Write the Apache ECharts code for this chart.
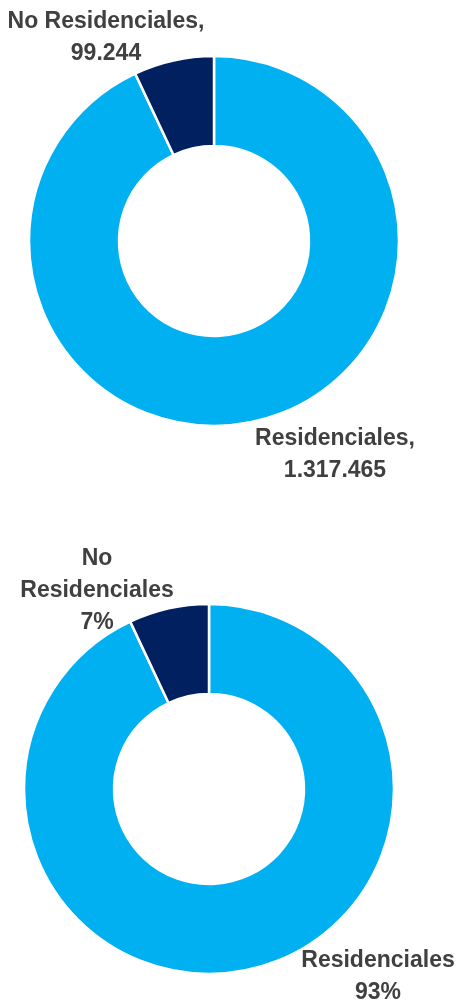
<!DOCTYPE html>
<html>
<head>
<meta charset="utf-8">
<script src="https://cdn.jsdelivr.net/npm/echarts@6/dist/echarts.min.js"></script>
<style>
  html, body { margin: 0; padding: 0; background: #fff; }
  #chart { width: 458px; height: 1000px; }
</style>
</head>
<body>
<div id="chart"></div>
<script>
// datos
const categories = ['Residenciales', 'No Residenciales'];
const counts = [1317465, 99244];
const shares = [93, 7];
const colors = ['#00B0F0', '#002060'];

// posiciones de las etiquetas (centro del bloque de texto)
const countLabelPos = [[335, 455], [106, 38]];
const shareLabelPos = [[378, 977], [97, 591]];

const fmtMiles = n => String(n).replace(/\B(?=(\d{3})+(?!\d))/g, '.');

const labelStyle = {
  show: true,
  position: 'outside',
  fontFamily: 'Liberation Sans, Arial, sans-serif',
  fontWeight: 'bold',
  fontSize: 23,
  lineHeight: 32,
  color: '#404040',
  align: 'center'
};

const chart = echarts.init(document.getElementById('chart'));

const option = {
  animation: false,
  series: [
    {
      type: 'pie',
      center: [214, 241],
      radius: [95, 185],
      startAngle: 90,
      clockwise: true,
      avoidLabelOverlap: false,
      silent: true,
      itemStyle: { borderColor: '#fff', borderWidth: 2.5 },
      label: {
        ...labelStyle,
        formatter: p => p.name + ',\n' + fmtMiles(p.value)
      },
      labelLine: { show: false },
      labelLayout: p => ({
        x: countLabelPos[p.dataIndex][0],
        y: countLabelPos[p.dataIndex][1],
        align: 'center',
        verticalAlign: 'middle'
      }),
      data: categories.map((c, i) => ({
        name: c,
        value: counts[i],
        itemStyle: { color: colors[i] }
      }))
    },
    {
      type: 'pie',
      center: [209, 789],
      radius: [95, 185],
      startAngle: 90,
      clockwise: true,
      avoidLabelOverlap: false,
      silent: true,
      itemStyle: { borderColor: '#fff', borderWidth: 2.5 },
      label: {
        ...labelStyle,
        formatter: p => p.name.replace(' ', '\n') + '\n' + p.value + '%'
      },
      labelLine: { show: false },
      labelLayout: p => ({
        x: shareLabelPos[p.dataIndex][0],
        y: shareLabelPos[p.dataIndex][1],
        align: 'center',
        verticalAlign: 'middle'
      }),
      data: categories.map((c, i) => ({
        name: c,
        value: shares[i],
        itemStyle: { color: colors[i] }
      }))
    }
  ]
};

chart.setOption(option);
</script>
</body>
</html>
